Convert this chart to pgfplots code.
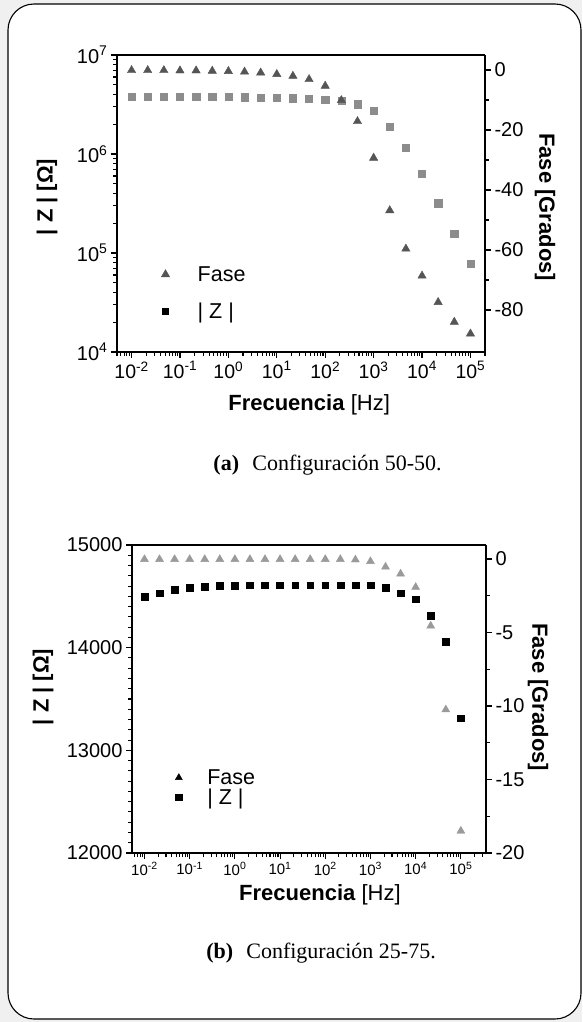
\documentclass[border=0pt]{standalone}
\usepackage{pgfplots}
\usepackage{pgfplotstable}
\pgfplotsset{compat=1.18}
\usepackage{fontspec}
\setmainfont{Liberation Sans}
\newfontfamily\capfont{Liberation Serif}
\definecolor{darkg}{HTML}{555555}
\definecolor{midg}{HTML}{8C8C8C}
\definecolor{lightg}{HTML}{9A9A9A}
\definecolor{bgg}{HTML}{F0F0F0}

\pgfplotstableread{
f phase absz
0.01 -0.1 3.80e6
0.021544 -0.1 3.80e6
0.046416 -0.1 3.80e6
0.1 -0.2 3.80e6
0.21544 -0.2 3.79e6
0.46416 -0.3 3.78e6
1 -0.4 3.77e6
2.1544 -0.6 3.75e6
4.6416 -0.9 3.73e6
10 -1.4 3.70e6
21.544 -2.0 3.66e6
46.416 -3.1 3.60e6
100 -5.3 3.51e6
215.44 -10.1 3.43e6
464.16 -17.1 3.18e6
1000 -29.3 2.72e6
2154.4 -46.8 1.87e6
4641.6 -59.6 1.16e6
10000 -68.6 6.38e5
21544 -77.4 3.18e5
46416 -84.0 1.58e5
100000 -87.9 7.87e4
}\dataA

\pgfplotstableread{
f phase absz
0.01 -0.02 14497
0.021544 -0.02 14531
0.046416 -0.02 14566
0.1 -0.02 14583
0.21544 -0.02 14594
0.46416 -0.02 14601
1 -0.02 14601
2.1544 -0.02 14609
4.6416 -0.02 14609
10 -0.02 14609
21.544 -0.02 14609
46.416 -0.02 14609
100 -0.02 14609
215.44 -0.02 14609
464.16 -0.05 14609
1000 -0.16 14609
2154.4 -0.54 14583
4641.6 -1.01 14531
10000 -1.92 14472
21544 -4.55 14313
46416 -10.25 14055
100000 -18.5 13314
}\dataB

\begin{document}
\begin{tikzpicture}
\useasboundingbox (0pt,0pt) rectangle (582pt,-1022pt);
\fill[bgg] (0pt,0pt) rectangle (582pt,-1022pt);
\begin{scope}
\clip (0pt,0pt) rectangle (582pt,-1022pt);
\draw[line width=1.1pt, fill=white, rounded corners=26pt] (8pt,-4pt) rectangle (581pt,-1019pt);
\end{scope}

% ---------- (a) ----------
\begin{axis}[scale only axis, axis line style={line width=1.2pt, -}, tick style={line width=1.1pt, black},
  major tick length=6pt, minor tick length=4pt, tick align=outside,
  tick label style={font=\fontsize{20}{22}\selectfont}, label style={font=\fontsize{22}{25}\selectfont},
  at={(117pt,-352pt)}, anchor=south west, width=368pt, height=297pt,
  xmode=log, xmin=0.005, xmax=2e5, ymode=log, ymin=1e4, ymax=1e7,
  axis x line*=bottom, axis y line*=left,
  xtick={0.01,0.1,1,10,100,1000,10000,100000},
  extra x ticks={0.005,0.006,0.007,0.008,0.009,0.02,0.03,0.04,0.05,0.06,0.07,0.08,0.09,0.2,0.3,0.4,0.5,0.6,0.7,0.8,0.9,2,3,4,5,6,7,8,9,20,30,40,50,60,70,80,90,200,300,400,500,600,700,800,900,2000,3000,4000,5000,6000,7000,8000,9000,20000,30000,40000,50000,60000,70000,80000,90000,200000},
  extra x tick labels={},
  extra x tick style={major tick length=4pt},
  xticklabels={10\textsuperscript{-2},10\textsuperscript{-1},10\textsuperscript{0},10\textsuperscript{1},10\textsuperscript{2},10\textsuperscript{3},10\textsuperscript{4},10\textsuperscript{5}},
  xticklabel style={font=\fontsize{19.5}{22}\selectfont},
  ytick={1e4,1e5,1e6,1e7},
  extra y ticks={2e4,3e4,4e4,5e4,6e4,7e4,8e4,9e4,2e5,3e5,4e5,5e5,6e5,7e5,8e5,9e5,2e6,3e6,4e6,5e6,6e6,7e6,8e6,9e6},
  extra y tick labels={},
  extra y tick style={major tick length=4pt},
  yticklabels={10\textsuperscript{4},10\textsuperscript{5},10\textsuperscript{6},10\textsuperscript{7}},
  xlabel={\textbf{Frecuencia} [Hz]},
  ylabel={\textbf{| Z | [Ω]}},
  xlabel style={at={(axis description cs:0.522,-0.178)}, anchor=center},
  ylabel style={at={(axis description cs:-0.19,0.522)}, anchor=center},
]
\addplot[only marks, mark=square*, midg, mark size=3.6pt] table[x=f, y=absz] {\dataA};
\end{axis}
\begin{axis}[scale only axis, axis line style={line width=1.2pt, -}, tick style={line width=1.1pt, black},
  major tick length=6pt, minor tick length=4pt, tick align=outside,
  tick label style={font=\fontsize{20}{22}\selectfont}, label style={font=\fontsize{22}{25}\selectfont},
  at={(117pt,-352pt)}, anchor=south west, width=368pt, height=297pt,
  xmode=log, xmin=0.005, xmax=2e5, ymin=-94, ymax=5,
  axis y line*=right, axis x line*=top, xtick=\empty,
  ytick={-80,-60,-40,-20,0}, yticklabels={-80,-60,-40,-20,0},
  minor y tick num=1,
  ylabel={\textbf{Fase [Grados]}},
  ylabel style={at={(axis description cs:1.163,0.488)}, anchor=center, rotate=180},
  legend style={draw=none, fill=none, at={(axis description cs:0.12,0.296)}, anchor=north west,
    font=\fontsize{21.5}{24}\selectfont, row sep=16pt, column sep=26pt, inner sep=0pt, nodes={inner sep=2pt}},
  legend cell align=left,
]
\addplot[only marks, mark=triangle*, darkg, mark size=4.8pt] table[x=f, y=phase] {\dataA};
\addlegendentry{Fase}
\addlegendimage{only marks, mark=square*, black, mark size=3pt}
\addlegendentry{| Z |}
\end{axis}
\node[font=\capfont\fontsize{22}{26}\selectfont] at (327.6pt,-465pt) {\textbf{(a)}\hspace{0.6em}Configuración 50-50.};

% ---------- (b) ----------
\begin{axis}[scale only axis, axis line style={line width=1.2pt, -}, tick style={line width=1.1pt, black},
  major tick length=6pt, minor tick length=4pt, tick align=outside,
  tick label style={font=\fontsize{20}{22}\selectfont}, label style={font=\fontsize{22}{25}\selectfont},
  at={(132pt,-853pt)}, anchor=south west, width=354pt, height=308pt,
  xmode=log, xmin=0.0053, xmax=3.6e5, ymin=-20, ymax=0.95,
  axis x line*=bottom, axis y line*=right,
  xtick={0.01,0.1,1,10,100,1000,10000,100000},
  extra x ticks={0.006,0.007,0.008,0.009,0.02,0.03,0.04,0.05,0.06,0.07,0.08,0.09,0.2,0.3,0.4,0.5,0.6,0.7,0.8,0.9,2,3,4,5,6,7,8,9,20,30,40,50,60,70,80,90,200,300,400,500,600,700,800,900,2000,3000,4000,5000,6000,7000,8000,9000,20000,30000,40000,50000,60000,70000,80000,90000,200000,300000},
  extra x tick labels={},
  extra x tick style={major tick length=4pt},
  xticklabels={10\textsuperscript{-2},10\textsuperscript{-1},10\textsuperscript{0},10\textsuperscript{1},10\textsuperscript{2},10\textsuperscript{3},10\textsuperscript{4},10\textsuperscript{5}},
  xticklabel style={font=\fontsize{15}{17}\selectfont},
  ytick={-20,-15,-10,-5,0}, yticklabels={-20,-15,-10,-5,0},
  minor y tick num=1,
  xlabel={\textbf{Frecuencia} [Hz]},
  ylabel={\textbf{Fase [Grados]}},
  xlabel style={at={(axis description cs:0.531,-0.136)}, anchor=center},
  ylabel style={at={(axis description cs:1.147,0.506)}, anchor=center, rotate=180},
]
\addplot[only marks, mark=triangle*, lightg, mark size=4.6pt] table[x=f, y=phase] {\dataB};
\end{axis}
\begin{axis}[scale only axis, axis line style={line width=1.2pt, -}, tick style={line width=1.1pt, black},
  major tick length=6pt, minor tick length=4pt, tick align=outside,
  tick label style={font=\fontsize{20}{22}\selectfont}, label style={font=\fontsize{22}{25}\selectfont},
  at={(132pt,-853pt)}, anchor=south west, width=354pt, height=308pt,
  xmode=log, xmin=0.0053, xmax=3.6e5, ymin=12000, ymax=15000,
  axis y line*=left, axis x line*=top, xtick=\empty,
  scaled y ticks=false,
  ytick={12000,13000,14000,15000}, yticklabels={12000,13000,14000,15000},
  minor y tick num=9,
  ylabel={\textbf{| Z | [Ω]}},
  ylabel style={at={(axis description cs:-0.251,0.539)}, anchor=center},
  legend style={draw=none, fill=none, at={(axis description cs:0.122,0.272)}, anchor=north west,
    font=\fontsize{21.5}{24}\selectfont, row sep=3pt, column sep=25pt, inner sep=0pt, nodes={inner sep=0pt}},
  legend cell align=left,
]
\addlegendimage{only marks, mark=triangle*, black, mark size=4pt}
\addlegendentry{Fase}
\addplot[only marks, mark=square*, black, mark size=3.4pt] table[x=f, y=absz] {\dataB};
\addlegendentry{| Z |}
\end{axis}
\node[font=\capfont\fontsize{22}{26}\selectfont] at (321pt,-953pt) {\textbf{(b)}\hspace{0.6em}Configuración 25-75.};
\end{tikzpicture}
\end{document}
